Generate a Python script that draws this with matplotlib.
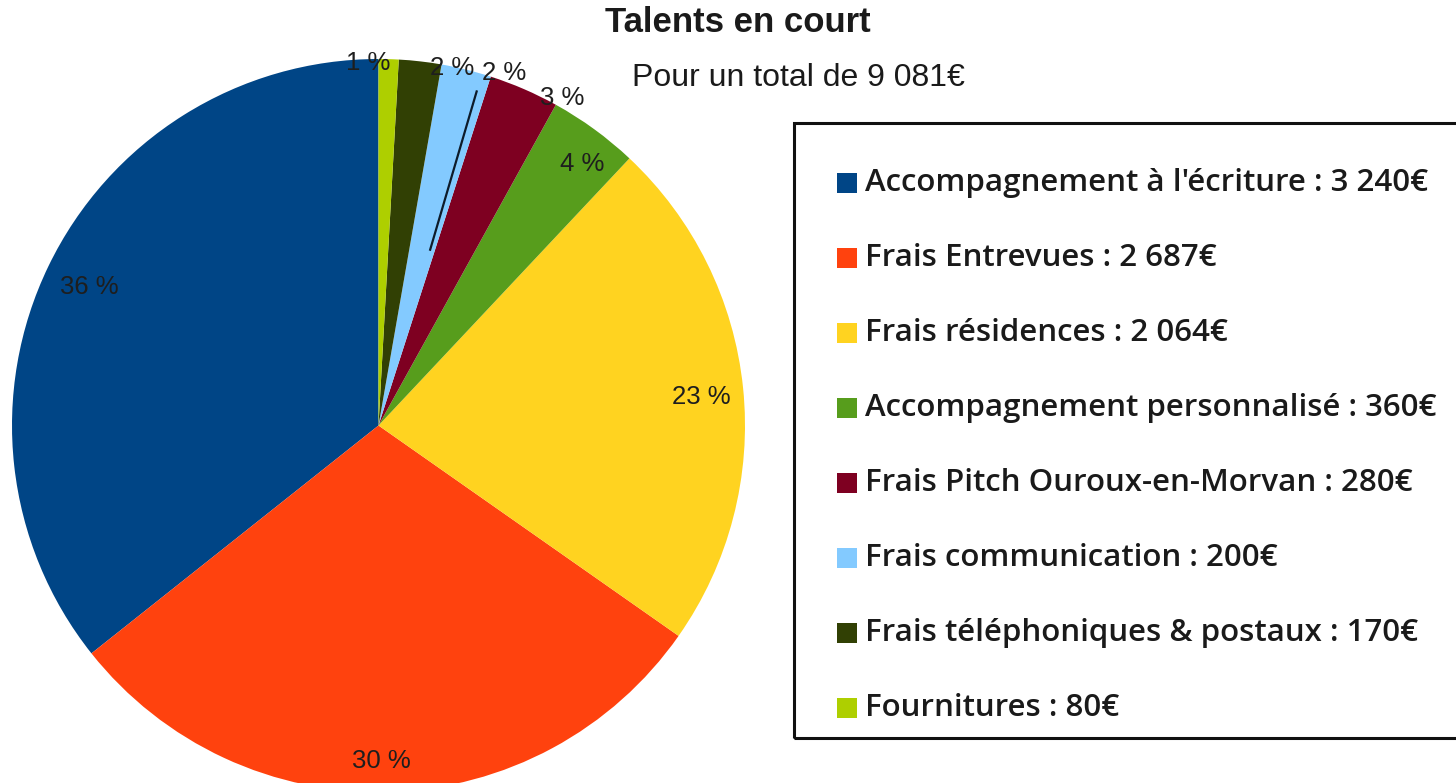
import matplotlib
matplotlib.use("Agg")
import matplotlib.pyplot as plt
import numpy as np
from matplotlib.patches import Rectangle

# --- données ---
NAMES = [
    "Accompagnement à l'écriture",
    "Frais Entrevues",
    "Frais résidences",
    "Accompagnement personnalisé",
    "Frais Pitch Ouroux-en-Morvan",
    "Frais communication",
    "Frais téléphoniques & postaux",
    "Fournitures",
]
VALUES = [3240, 2687, 2064, 360, 280, 200, 170, 80]
SEP = [" : ", " : ", " : ", " : ", " : ", " : ", " : ", " : "]
COLORS = ["#004586", "#ff420e", "#ffd320", "#579d1c",
          "#7e0021", "#83caff", "#314004", "#aecf00"]

TITLE = "Talents en court"
SUBTITLE = "Pour un total de 9 081€"

# placement des étiquettes % (rayon relatif, décalage angulaire en degrés)
LABEL_R = [0.874, 0.915, 0.885, 0.905, 1.025, 1.02, 0.995, 0.99]
LABEL_DANG = [0.2, -1.2, -0.8, -1.9, -5.8, -5.8, -5.1, 3.2]

W, H = 1456, 783
CX, CY, R = 378.5, H - 425.5, 366.5


def fmt_eur(v):
    return f"{v:,}".replace(",", " ") + "€"


fig = plt.figure(figsize=(W / 100, H / 100), dpi=100)
ax = fig.add_axes([0, 0, 1, 1])

wedges, _ = ax.pie(VALUES, colors=COLORS, startangle=90, counterclock=True,
                   center=(CX, CY), radius=R, frame=True,
                   wedgeprops=dict(linewidth=0))
ax.set_xlim(0, W)
ax.set_ylim(0, H)
ax.set_aspect("equal")
ax.axis("off")

total = sum(VALUES)
for i, w in enumerate(wedges):
    mid = 0.5 * (w.theta1 + w.theta2) + LABEL_DANG[i]
    a = np.deg2rad(mid)
    pct = round(100 * VALUES[i] / total)
    ax.text(CX + LABEL_R[i] * R * np.cos(a), CY + LABEL_R[i] * R * np.sin(a),
            f"{pct} %", ha="center", va="center", fontsize=18.5,
            family="Liberation Sans", color="#1e1e1e")

# trait de rappel vers l'étiquette "Frais communication"
w = wedges[5]
a = np.deg2rad(0.5 * (w.theta1 + w.theta2) - 2.5)
ax.plot([CX + 0.5 * R * np.cos(a), CX + 0.95 * R * np.cos(a)],
        [CY + 0.5 * R * np.sin(a), CY + 0.95 * R * np.sin(a)],
        color="#0d1b2a", lw=1.6)

# titres
ax.text(738, H - 23, TITLE, ha="center", va="center", fontsize=25,
        fontweight="bold", family="Liberation Sans", color="#1a1a1a")
ax.text(798, H - 78, SUBTITLE, ha="center", va="center", fontsize=23,
        family="Liberation Sans", color="#1a1a1a")

# légende
ax.add_patch(Rectangle((794, H - 738), 700, 615, fill=False,
                       edgecolor="#111111", lw=2.2))
row0, step = H - 183, 75
for i, (name, v) in enumerate(zip(NAMES, VALUES)):
    y = row0 - i * step
    ax.add_patch(Rectangle((837, y - 10), 20, 20, facecolor=COLORS[i], lw=0))
    ax.text(865, y, name + SEP[i] + fmt_eur(v), ha="left", va="center",
            fontsize=22.5, family="Open Sans", fontweight="semibold",
            color="#1a1a1a")

fig.savefig("out.png", dpi=100)
